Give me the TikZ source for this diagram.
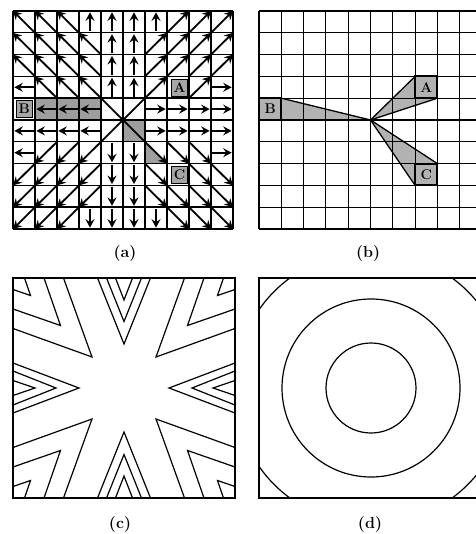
\documentclass[tikz,border=0pt]{standalone}
\usetikzlibrary{arrows.meta}
\pgfdeclarelayer{bg}
\pgfsetlayers{bg,main}
\begin{document}
\begin{tikzpicture}[x=1pt,y=-1pt,
  gridA/.style={line width=1.4pt},
  gridB/.style={line width=1.1pt},
  fieldline/.style={line width=1.8pt},
  fieldarrow/.style={line width=1.8pt,-{Stealth[length=8.5pt,width=9pt,inset=3pt]}},
  grayfill/.style={fill=black!38},
  labbox/.style={draw,line width=0.6pt,fill=black!35,inner sep=0pt,outer sep=0pt,
    minimum size=16.5pt,font=\fontsize{14}{14}\selectfont\bfseries},
  boxB/.style={draw,line width=2pt,fill=black!30,inner sep=0pt,outer sep=0pt,
    minimum width=22.3pt,minimum height=21.8pt,font=\fontsize{14}{14}\selectfont\bfseries},
  wedge/.style={line width=1.3pt},
  contourline/.style={line width=1.2pt,line join=miter},
  paneltag/.style={font=\fontsize{16}{18}\selectfont\bfseries}
]
\useasboundingbox (0,0) rectangle (475,534);

% ================= (a) =================
\fill[grayfill] (35,98.2) rectangle (101,120);
\fill[grayfill] (123,120) rectangle (145,141.8);
\fill[grayfill] (145,141.8) -- (167,163.6) -- (145,163.6) -- cycle;
\foreach \k in {0,...,10}{
  \draw[gridA] ({13+22*\k},11) -- ({13+22*\k},229);
  \draw[gridA] (13,{11+21.8*\k}) -- (233,{11+21.8*\k});
}
\foreach \i in {0,...,9}{
  \foreach \j in {0,...,9}{
    \pgfmathsetmacro\ang{45*round(atan2(4.5-\j,\i-4.5)/45)}
    \pgfmathtruncatemacro\ux{round(cos(\ang))}
    \pgfmathtruncatemacro\uy{round(sin(\ang))}
    \pgfmathtruncatemacro\lab{((\i==7)&&(\j==3))||((\i==0)&&(\j==4))||((\i==7)&&(\j==7))}
    \pgfmathtruncatemacro\cen{((\i==4)||(\i==5))&&((\j==4)||(\j==5))}
    \pgfmathsetmacro\fac{(\ux*\uy==0) ? 0.88 : 1}
    \pgfmathsetmacro\cx{13+22*(\i+0.5)}
    \pgfmathsetmacro\cy{11+21.8*(\j+0.5)}
    \ifnum\lab=0
      \ifnum\cen=1
        \draw[fieldline] ({\cx-11*\ux},{\cy+10.9*\uy}) -- ({\cx+11*\ux},{\cy-10.9*\uy});
      \else
        \draw[fieldarrow] ({\cx-11*\fac*\ux},{\cy+10.9*\fac*\uy}) -- ({\cx+11*\fac*\ux},{\cy-10.9*\fac*\uy});
      \fi
    \fi
  }
}
\node[labbox] (aA) at (179.5,88) {A};
\node[labbox] (aB) at (24.2,108.6) {B};
\node[labbox] (aC) at (179.5,175) {C};
\node[paneltag] (ta) at (125,254) {(a)};

% ================= (b) =================
\coordinate (bc) at (370.5,120);
\node[boxB] (bA) at (426.25,87.3) {A};
\node[boxB] (bB) at (270.15,109.1) {B};
\node[boxB] (bC) at (426.25,174.5) {C};
\begin{pgfonlayer}{bg}
  \fill[black!30] (bc) -- (bA.north west) -- (bA.south west) -- (bA.south east) -- cycle;
  \fill[black!30] (bc) -- (bB.north east) -- (bB.south east) -- cycle;
  \fill[black!30] (bc) -- (bC.north east) -- (bC.north west) -- (bC.south west) -- cycle;
  \foreach \k in {0,...,10}{
    \draw[gridB] ({259+22.3*\k},11) -- ({259+22.3*\k},229);
    \draw[gridB] (259,{11+21.8*\k}) -- (482,{11+21.8*\k});
  }
\end{pgfonlayer}
\draw[wedge] (bc) -- (bA.north west);
\draw[wedge] (bc) -- (bA.south east);
\draw[wedge] (bc) -- (bB.north east);
\draw[wedge] (bc) -- (bB.south east);
\draw[wedge] (bc) -- (bC.north east);
\draw[wedge] (bc) -- (bC.south west);
\node[paneltag] (tb) at (368,254) {(b)};

% ================= (c) =================
\draw[contourline] (13,278) rectangle (235,498);
% corners
\foreach \ox/\oy/\sx/\sy in {13/278/1/1, 235/278/-1/1, 13/498/1/-1, 235/498/-1/-1}{
  \begin{scope}[shift={(\ox,\oy)},xscale=\sx,yscale=\sy]
    \draw[contourline] (11.5,0) -- (17.5,17.5) -- (0,11.5);
    \draw[contourline] (31,0) -- (47.5,47.5) -- (0,31);
    \draw[contourline] (50.5,0) -- (79,79) -- (0,50.5);
  \end{scope}
}
% top / bottom
\foreach \oy/\sy in {278/1, 498/-1}{
  \begin{scope}[shift={(124,\oy)},yscale=\sy]
    \draw[contourline] (-8.5,0) -- (0,22) -- (8.5,0);
    \draw[contourline] (-17.5,0) -- (0,43.5) -- (17.5,0);
    \draw[contourline] (-26.5,0) -- (0,66) -- (26.5,0);
  \end{scope}
}
% left / right
\foreach \ox/\sx in {13/1, 235/-1}{
  \begin{scope}[shift={(\ox,388)},xscale=\sx]
    \draw[contourline] (0,-7.5) -- (22,0) -- (0,7.5);
    \draw[contourline] (0,-17) -- (43,0) -- (0,17);
    \draw[contourline] (0,-25) -- (66,0) -- (0,25);
  \end{scope}
}
\node[paneltag] (tc) at (120,525) {(c)};

% ================= (d) =================
\draw[contourline] (259,278) rectangle (483,498);
\draw[contourline] (371,388) circle[radius=45];
\draw[contourline] (371,388) circle[radius=89];
\begin{scope}
  \clip (259,278) rectangle (483,498);
  \draw[contourline] (371,388) circle[radius=136.7];
\end{scope}
\node[paneltag] (td) at (370,525) {(d)};
\end{tikzpicture}
\end{document}
